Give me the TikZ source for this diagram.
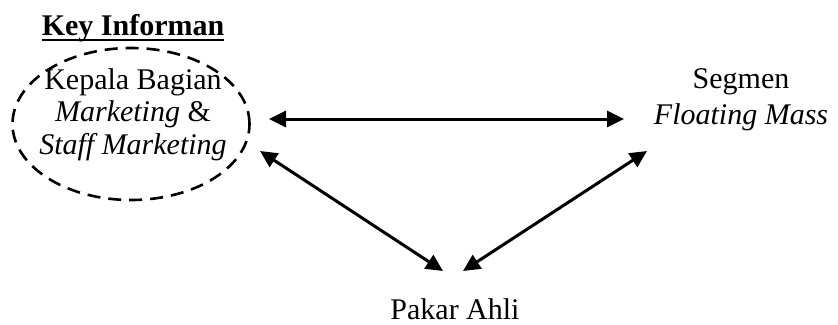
\documentclass[tikz,border=0pt]{standalone}
\usepackage{fontspec}
\setmainfont{Liberation Serif}
\usetikzlibrary{arrows.meta,shapes.geometric}
\tikzset{
  lbl/.style={font=\fontsize{30}{32.5}\selectfont, inner sep=0pt, align=center},
  conn/.style={line width=3pt, {Triangle[length=17pt,width=16pt]}-{Triangle[length=17pt,width=16pt]}},
  keyell/.style={ellipse, draw, dashed, line width=2.6pt, dash pattern=on 13pt off 8pt, minimum width=237pt, minimum height=152pt, inner sep=0pt}
}
\begin{document}
\begin{tikzpicture}[x=1pt,y=-1pt]
\useasboundingbox (0,0) rectangle (838,324);
% key informan ellipse and label
\node[keyell] (kbell) at (131,124) {};
\node[lbl, anchor=base, font=\fontsize{30}{32}\selectfont\bfseries] (title) at (133,35) {Key Informan};
\draw[line width=2.2pt] ([yshift=-5pt]title.base west) -- ([yshift=-5pt]title.base east);
\node[lbl, anchor=base] (kb) at (133,154) {Kepala Bagian\\\textit{Marketing} \&\\\textit{Staff Marketing}};
% other nodes
\node[lbl, anchor=base, font=\fontsize{30}{36}\selectfont] (seg) at (741,124) {Segmen\\\textit{Floating Mass}};
\node[lbl, anchor=base] (pakar) at (455,319) {Pakar Ahli};
% arrow end points
\coordinate (kbH) at (269,119);
\coordinate (segH) at (624,119);
\coordinate (kbD) at (260,151);
\coordinate (segD) at (647,151);
\coordinate (pkL) at (443,271);
\coordinate (pkR) at (463,271);
\draw[conn] (kbH) -- (segH);
\draw[conn] (kbD) -- (pkL);
\draw[conn] (segD) -- (pkR);
\end{tikzpicture}
\end{document}
